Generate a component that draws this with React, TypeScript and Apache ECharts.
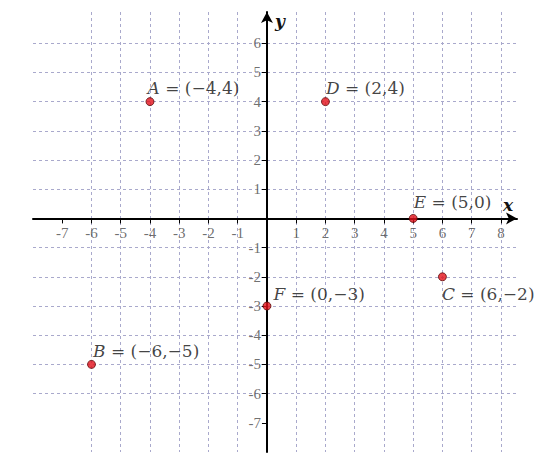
import React, { useEffect, useRef } from "react";
import * as echarts from "echarts";

const pointNames = ["A", "B", "C", "D", "E", "F"];
const pointX = [-4, -6, 6, 2, 5, 0];
const pointY = [4, -5, -2, 4, 0, -3];
const xTickValues = [-7, -6, -5, -4, -3, -2, -1, 1, 2, 3, 4, 5, 6, 7, 8];
const yTickValues = [-7, -6, -5, -4, -3, -2, -1, 1, 2, 3, 4, 5, 6];
const xRange = [-8, 8.55];
const yRange = [-8, 7.07];

const fmt = (v: number) => (v < 0 ? "\u2212" + Math.abs(v) : String(v));

// label placement per point (style only)
const labelPlace: Record<string, number[]> = {
  A: [2, -9],
  B: [6, -9],
  C: [4, 22],
  D: [5, -9],
  E: [5, -12],
  F: [11, -8],
};

export default function App() {
  const ref = useRef<HTMLDivElement>(null);
  useEffect(() => {
    if (!ref.current) return;
    const chart = echarts.init(ref.current, null, { renderer: "svg" });
    const gridColor = "#a9a9cc";
    const tickFont = {
      color: "#4a4a4a",
      fontFamily: "Liberation Serif",
      fontSize: 15,
    };
    const data = pointNames.map((n, i) => ({
      name: n,
      value: [pointX[i], pointY[i]],
      label: {
        show: true,
        position: labelPlace[n],
        align: "left",
        verticalAlign: "middle",
        formatter: `{i|${n}} = (${fmt(pointX[i])},${fmt(pointY[i])})`,
        fontFamily: "DejaVu Serif",
        fontSize: 17,
        color: "#111",
        rich: {
          i: {
            fontStyle: "italic",
            fontFamily: "DejaVu Serif",
            fontSize: 17,
            color: "#111",
          },
        },
      },
    }));
    const lineAxis = {
      show: true,
      onZero: true,
      symbol: ["none", "arrow"],
      symbolSize: [9, 11],
      lineStyle: { color: "#000", width: 2 },
    };
    const split = {
      show: true,
      showMinLine: false,
      lineStyle: { color: gridColor, type: [3, 3], width: 1 },
    };
    chart.setOption({
      animation: false,
      backgroundColor: "#ffffff",
      grid: {
        left: 33,
        right: 20,
        top: 12,
        bottom: 8,
        containLabel: false,
        outerBoundsMode: "none",
      },
      xAxis: {
        type: "value",
        min: xRange[0],
        max: xRange[1],
        interval: 1,
        name: "x",
        nameLocation: "end",
        nameGap: -9,
        nameTextStyle: {
          fontFamily: "DejaVu Serif",
          fontStyle: "italic",
          fontWeight: "bold",
          fontSize: 17,
          color: "#111",
          align: "center",
          verticalAlign: "bottom",
          padding: [0, 0, 5, 0],
        },
        axisLine: lineAxis,
        axisTick: {
          show: true,
          length: 5,
          customValues: xTickValues,
          lineStyle: { color: "#000", width: 1 },
        },
        axisLabel: { show: false },
        splitLine: split,
      },
      yAxis: {
        type: "value",
        min: yRange[0],
        max: yRange[1],
        interval: 1,
        name: "y",
        nameLocation: "end",
        nameGap: 0,
        nameTextStyle: {
          fontFamily: "DejaVu Serif",
          fontStyle: "italic",
          fontWeight: "bold",
          fontSize: 17,
          color: "#111",
          align: "left",
          verticalAlign: "top",
          padding: [0, 0, 0, 8],
        },
        axisLine: lineAxis,
        axisTick: {
          show: true,
          length: 5,
          customValues: yTickValues,
          lineStyle: { color: "#000", width: 1 },
        },
        axisLabel: { show: false },
        splitLine: split,
      },
      series: [
        {
          type: "scatter",
          symbolSize: 0,
          silent: true,
          data: xTickValues.map((v) => [v, 0]),
          label: {
            show: true,
            position: "bottom",
            distance: 7,
            formatter: (p: any) => String(p.value[0]),
            ...tickFont,
          },
          z: 3,
        },
        {
          type: "scatter",
          symbolSize: 0,
          silent: true,
          data: yTickValues.map((v) => [0, v]),
          label: {
            show: true,
            position: "left",
            distance: 6,
            formatter: (p: any) => String(p.value[1]),
            ...tickFont,
          },
          z: 3,
        },
        {
          type: "scatter",
          symbol: "circle",
          symbolSize: 8,
          itemStyle: { color: "#e3101a", borderColor: "#5a0a0a", borderWidth: 1 },
          data,
          z: 5,
        },
      ],
    });
    return () => chart.dispose();
  }, []);
  return (
    <div
      ref={ref}
      style={{ position: "absolute", left: 0, top: 0, width: 537, height: 460 }}
    />
  );
}
